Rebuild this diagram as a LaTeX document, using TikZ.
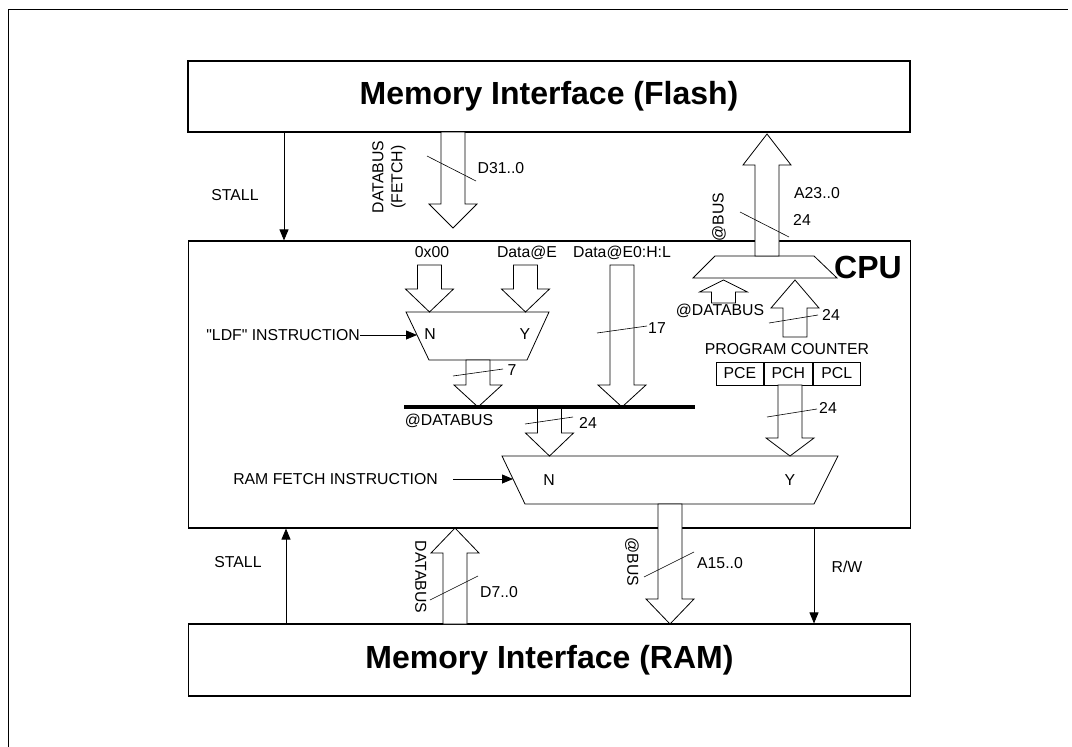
\documentclass[tikz,border=0pt]{standalone}
\usepackage{fontspec}
\setmainfont{Liberation Sans}
\usepackage{tikz}
\usetikzlibrary{calc,arrows.meta,positioning}
\tikzstyle{membox}=[rectangle,draw=black,line width=1.1pt,minimum width=722pt,
                    inner sep=0pt,font=\fontsize{32}{34}\selectfont\bfseries]
\tikzstyle{lbl}=[inner sep=0pt,text height=11.3pt,text depth=0pt,
                 font=\fontsize{15.8}{19}\selectfont]
\tikzstyle{pcbox}=[rectangle,draw=black,line width=0.8pt,minimum width=47.7pt,
                   minimum height=23pt,inner sep=0pt,font=\fontsize{15.8}{19}\selectfont]
\tikzstyle{busline}=[draw=black,line width=0.8pt,fill=white,line join=miter]
\tikzstyle{muxline}=[draw=black,line width=0.8pt]
\tikzstyle{sig}=[draw=black,line width=0.8pt,-{Triangle[length=11pt,width=9pt]}]
\tikzstyle{slash}=[draw=black,line width=0.6pt]
% wide bus arrow: [head length]{tail}{tip}
\newcommand\widearrow[3][23pt]{
    \coordinate (wabase) at ($(#3)!#1!(#2)$);
    \draw[busline] ($(#2)!12pt!90:(#3)$) -- ($(wabase)!12pt!-90:(#2)$)
        -- ($(wabase)!24pt!-90:(#2)$) -- (#3) -- ($(wabase)!24pt!90:(#2)$)
        -- ($(wabase)!12pt!90:(#2)$) -- ($(#2)!12pt!-90:(#3)$) -- cycle;
}

\begin{document}
\begin{tikzpicture}[x=1pt,y=-1pt]
    \useasboundingbox (0,0) rectangle (1072,747);
    \draw[line width=1pt] (8,747) -- (8,9) -- (1068,9);

    \node [membox,minimum height=71pt] (flash) at (549,96.5) {Memory Interface (Flash)};
    \node [membox,minimum height=287pt] (cpu) at (549.5,384.5) {};
    \node [membox,minimum height=72pt] (ram) at (549.5,660) {Memory Interface (RAM)};
    \node [inner sep=0pt,font=\fontsize{32}{34}\selectfont\bfseries] (cpulabel) at (868,267) {CPU};

    % control lines
    \coordinate (xstall) at (284,0);
    \coordinate (xstallb) at (286,0);
    \coordinate (xrw) at (814,0);
    \draw[sig] (xstall |- flash.south) -- (xstall |- cpu.north);
    \draw[sig] (xstallb |- ram.north) -- (xstallb |- cpu.south);
    \draw[sig] (xrw |- cpu.south) -- (xrw |- ram.north);
    \node [lbl] (stalltop) at (235,195) {STALL};
    \node [lbl] (stallbot) at (238,562) {STALL};
    \node [lbl] (rw) at (847,567) {R/W};

    % multiplexers
    \draw[muxline] (406,312) coordinate (ldftl) -- (549,312) -- (527,360)
        -- (429,360) coordinate (ldfbl) -- cycle;
    \draw[muxline] (715,256) coordinate (amtl) -- (814,256) -- (837,278)
        -- (693,278) coordinate (ambl) -- cycle;
    \draw[muxline] (502,456) coordinate (rmtl) -- (838,456) -- (814,504)
        -- (525,504) coordinate (rmbl) -- cycle;
    \node [lbl] (ldfn) at (430,334) {N};
    \node [lbl] (ldfy) at (525,334) {Y};
    \node [lbl] (rmn) at (549,480) {N};
    \node [lbl] (rmy) at (790,480) {Y};

    % program counter
    \node [lbl] (pclabel) at (787,349) {PROGRAM COUNTER};
    \node [pcbox] (pce) at (739.8,373.5) {PCE};
    \node [pcbox,right=0pt of pce] (pch) {PCH};
    \node [pcbox,right=0pt of pch] (pcl) {PCL};

    % wide buses
    \coordinate (fetchA) at (453,132);   \coordinate (fetchB) at (453,228);
    \coordinate (abusA) at (767,256);    \coordinate (abusB) at (767,134);
    \coordinate (zeroA) at (429.5,265);  \coordinate (zeroB) at (429.5,312);
    \coordinate (dataeA) at (525.5,265); \coordinate (dataeB) at (525.5,312);
    \coordinate (dhlA) at (622,265);     \coordinate (dhlB) at (622,407);
    \coordinate (ldfoA) at (478,360);    \coordinate (ldfoB) at (478,407);
    \coordinate (dbusA) at (549.5,407);  \coordinate (dbusB) at (549.5,456);
    \coordinate (adbA) at (723.5,303);   \coordinate (adbB) at (723.5,280);
    \coordinate (pcupA) at (795,337);    \coordinate (pcupB) at (795,280);
    \coordinate (pcdnA) at (790,385);    \coordinate (pcdnB) at (790,456);
    \coordinate (rbusA) at (670,504);    \coordinate (rbusB) at (670,624);
    \coordinate (rdatA) at (455,624);    \coordinate (rdatB) at (455,528);
    \widearrow[24pt]{fetchA}{fetchB}
    \widearrow[31pt]{abusA}{abusB}
    \widearrow{zeroA}{zeroB}
    \widearrow{dataeA}{dataeB}
    \widearrow[22pt]{dhlA}{dhlB}
    \widearrow[22pt]{ldfoA}{ldfoB}
    \widearrow{dbusA}{dbusB}
    \widearrow[12pt]{adbA}{adbB}
    \widearrow[28pt]{pcupA}{pcupB}
    \widearrow[18pt]{pcdnA}{pcdnB}
    \widearrow[25pt]{rbusA}{rbusB}
    \widearrow[25pt]{rdatA}{rdatB}

    % internal data bus
    \draw[line width=3.5pt] (404,407) coordinate (busL) -- (695,407) coordinate (busR);

    % width slashes
    \draw[slash] (427,156) -- (476,181);
    \draw[slash] (740,212) -- (789,237);
    \draw[slash] (597,333) -- (647,326);
    \draw[slash] (453,376) -- (503,369);
    \draw[slash] (525,424) -- (573,417);
    \draw[slash] (769,323) -- (818,315);
    \draw[slash] (767,417) -- (817,409);
    \draw[slash] (430,600) -- (478,576);
    \draw[slash] (644,577) -- (694,552);

    % selects
    \node [lbl,anchor=east] (ldfsel) at (360,335) {\textquotedbl LDF\textquotedbl{} INSTRUCTION};
    \node [lbl,anchor=east] (ramsel) at (438,479) {RAM FETCH INSTRUCTION};
    \coordinate (ldfin) at (417,335);
    \coordinate (ramin) at (513,479);
    \draw[sig] (ldfsel.east) -- (ldfin);
    \draw[sig] ([xshift=15pt]ramsel.east) -- (ramin);

    % bus labels
    \node [inner sep=0pt,font=\fontsize{15.8}{19}\selectfont,rotate=90,align=center]
        (fetchlbl) at (389,177) {DATABUS\\(FETCH)};
    \node [lbl] (d31) at (501,168) {D31..0};
    \node [lbl,rotate=90] (abuslbl) at (718,217) {@BUS};
    \node [lbl] (a23) at (817,193) {A23..0};
    \node [lbl] (w24a) at (802,220) {24};
    \node [lbl] (zero) at (432,252) {0x00};
    \node [lbl] (datae) at (527,252) {Data@E};
    \node [lbl] (dhl) at (622,252) {Data@E0:H:L};
    \node [lbl] (w17) at (657,328) {17};
    \node [lbl] (w7) at (512,370) {7};
    \node [lbl] (dbuslbl) at (449,420) {@DATABUS};
    \node [lbl] (w24b) at (588,423) {24};
    \node [lbl] (adblbl) at (720,310) {@DATABUS};
    \node [lbl] (w24c) at (831,315) {24};
    \node [lbl] (w24d) at (828,408) {24};
    \node [lbl,rotate=-90] (rdatlbl) at (421,577) {DATABUS};
    \node [lbl] (d7) at (499,592) {D7..0};
    \node [lbl,rotate=-90] (rbuslbl) at (633,562) {@BUS};
    \node [lbl] (a15) at (720,563) {A15..0};
\end{tikzpicture}
\end{document}
